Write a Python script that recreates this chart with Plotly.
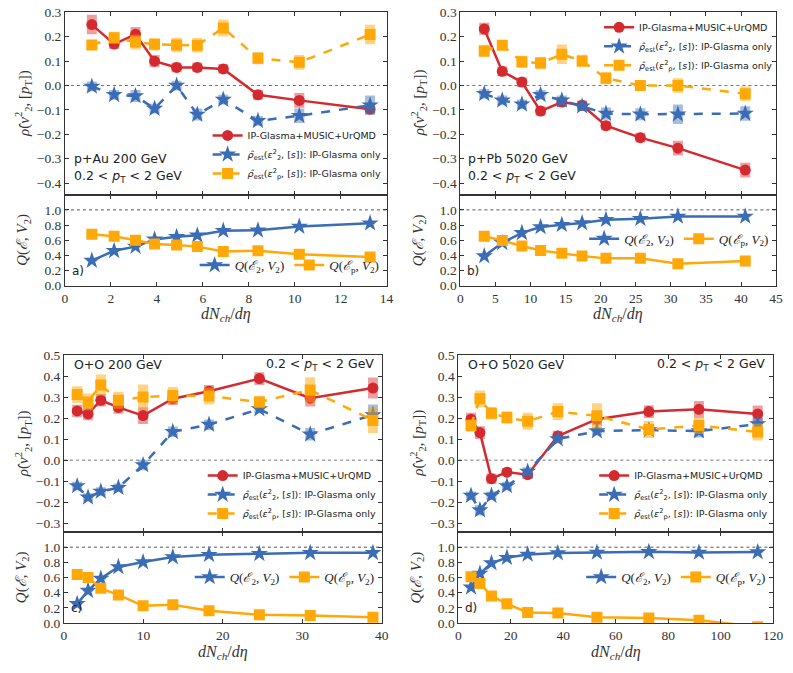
import plotly.graph_objects as go

W, H = 793, 673

# ---------------- data ----------------
# Panel a: p+Au 200 GeV
a_x = [1.17, 2.14, 3.07, 3.9, 4.86, 5.76, 6.89, 8.4, 10.2, 13.28]
a_red = [0.25, 0.17, 0.21, 0.10, 0.074, 0.074, 0.068, -0.038, -0.061, -0.097]
a_red_err = [0.04, 0.02, 0.03, 0.025, 0.02, 0.02, 0.02, 0.02, 0.03, 0.02]
a_blue = [-0.004, -0.038, -0.043, -0.095, 0.0, -0.119, -0.058, -0.145, -0.124, -0.081]
a_blue_err = [0.02, 0.02, 0.025, 0.02, 0.02, 0.025, 0.02, 0.02, 0.03, 0.04]
a_orange = [0.166, 0.196, 0.178, 0.169, 0.166, 0.165, 0.236, 0.112, 0.095, 0.209]
a_orange_err = [0.02, 0.025, 0.03, 0.025, 0.03, 0.03, 0.035, 0.025, 0.03, 0.04]
a_q2 = [0.33, 0.46, 0.515, 0.61, 0.644, 0.665, 0.725, 0.73, 0.78, 0.824]
a_qp = [0.678, 0.652, 0.60, 0.55, 0.536, 0.515, 0.45, 0.46, 0.416, 0.378]

# Panel b: p+Pb 5020 GeV
b_x = [3.4, 5.97, 8.77, 11.43, 14.46, 17.35, 20.75, 25.65, 31.0, 40.6]
b_red = [0.232, 0.058, 0.014, -0.105, -0.068, -0.081, -0.165, -0.214, -0.257, -0.347]
b_red_err = [0.025, 0.02, 0.02, 0.02, 0.02, 0.02, 0.02, 0.02, 0.03, 0.03]
b_blue = [-0.034, -0.061, -0.077, -0.038, -0.061, -0.085, -0.115, -0.118, -0.118, -0.115]
b_blue_err = [0.02, 0.02, 0.02, 0.02, 0.02, 0.02, 0.025, 0.025, 0.04, 0.03]
b_orange = [0.142, 0.165, 0.097, 0.092, 0.128, 0.101, 0.03, 0.0, 0.0, -0.034]
b_orange_err = [0.025, 0.02, 0.025, 0.025, 0.04, 0.025, 0.025, 0.02, 0.03, 0.03]
b_q2 = [0.39, 0.565, 0.696, 0.774, 0.804, 0.826, 0.87, 0.883, 0.913, 0.913]
b_qp = [0.652, 0.596, 0.522, 0.465, 0.426, 0.39, 0.36, 0.36, 0.29, 0.326]

# Panel c: O+O 200 GeV
c_x = [1.66, 3.03, 4.64, 6.85, 9.96, 13.7, 18.26, 24.6, 31.0, 38.9]
c_red = [0.234, 0.22, 0.285, 0.251, 0.212, 0.292, 0.328, 0.388, 0.295, 0.343]
c_red_err = [0.03, 0.03, 0.03, 0.03, 0.04, 0.03, 0.03, 0.03, 0.04, 0.05]
c_blue = [-0.123, -0.177, -0.149, -0.131, -0.023, 0.135, 0.169, 0.243, 0.123, 0.215]
c_blue_err = [0.02, 0.02, 0.02, 0.02, 0.025, 0.025, 0.025, 0.02, 0.03, 0.05]
c_orange = [0.312, 0.277, 0.358, 0.285, 0.30, 0.308, 0.305, 0.277, 0.334, 0.189]
c_orange_err = [0.04, 0.04, 0.05, 0.04, 0.06, 0.04, 0.04, 0.03, 0.06, 0.06]
c_q2 = [0.252, 0.426, 0.587, 0.739, 0.804, 0.87, 0.90, 0.913, 0.926, 0.926]
c_qp = [0.639, 0.60, 0.457, 0.37, 0.226, 0.239, 0.161, 0.109, 0.10, 0.074]

# Panel d: O+O 5020 GeV
d_x = [4.8, 8.2, 12.6, 18.5, 26.4, 37.9, 52.8, 72.6, 91.7, 114.1]
d_red = [0.195, 0.131, -0.088, -0.057, -0.069, 0.115, 0.195, 0.231, 0.242, 0.22]
d_red_err = [0.03, 0.03, 0.025, 0.02, 0.02, 0.025, 0.03, 0.03, 0.04, 0.04]
d_blue = [-0.169, -0.238, -0.169, -0.123, -0.054, 0.10, 0.138, 0.143, 0.138, 0.172]
d_blue_err = [0.02, 0.025, 0.02, 0.02, 0.02, 0.02, 0.02, 0.02, 0.03, 0.03]
d_orange = [0.165, 0.292, 0.223, 0.203, 0.185, 0.231, 0.211, 0.146, 0.165, 0.134]
d_orange_err = [0.03, 0.04, 0.03, 0.03, 0.04, 0.04, 0.06, 0.04, 0.04, 0.04]
d_q2 = [0.47, 0.652, 0.791, 0.861, 0.904, 0.922, 0.93, 0.939, 0.93, 0.935]
d_qp = [0.609, 0.522, 0.357, 0.252, 0.139, 0.13, 0.074, 0.065, 0.035, -0.05]

labels_top = ["IP-Glasma+MUSIC+UrQMD",
              "<i>ρ̂</i><sub>est</sub>(<i>ε</i><sup>2</sup><sub>2</sub>, [<i>s</i>]): IP-Glasma only",
              "<i>ρ̂</i><sub>est</sub>(<i>ε</i><sup>2</sup><sub>p</sub>, [<i>s</i>]): IP-Glasma only"]
labels_bot = ["<i>Q</i>(<i>ℰ</i><sub>2</sub>, <i>V</i><sub>2</sub>)",
              "<i>Q</i>(<i>ℰ</i><sub>p</sub>, <i>V</i><sub>2</sub>)"]
systems = ["p+Au 200 GeV", "p+Pb 5020 GeV", "O+O 200 GeV", "O+O 5020 GeV"]
panel_tags = ["a)", "b)", "c)", "d)"]
pt_text = "0.2 < <i>p</i><sub>T</sub> < 2 GeV"

# ---------------- style ----------------
RED = "#d42a2f"
BLUE = "#3a6db5"
ORANGE = "#ffa808"
RED_E = "rgba(212,42,47,0.45)"
BLUE_E = "rgba(58,109,181,0.45)"
ORANGE_E = "rgba(255,168,8,0.5)"
SERIF = "Liberation Serif"
SANS = "DejaVu Sans"

def px(v):
    return v / W

def py(v):
    return 1 - v / H

# panel geometry in pixels: (x0, x1, top_y0, split, bottom_y1)
geom = [
    (63, 390, 5, 192, 285),
    (465, 786, 5, 192, 285),
    (62, 385, 356, 537, 630),
    (463, 783, 356, 537, 630),
]
xranges = [[0, 14], [0, 45], [0, 40], [0, 120]]
xdticks = [2, 5, 10, 20]
top_yranges = [[-0.448, 0.302], [-0.448, 0.302], [-0.342, 0.5], [-0.342, 0.5]]
top_ticks = [[-0.4, -0.3, -0.2, -0.1, 0.0, 0.1, 0.2, 0.3]] * 2 + [[-0.3, -0.2, -0.1, 0.0, 0.1, 0.2, 0.3, 0.4, 0.5]] * 2

panels = [
    (a_x, a_red, a_red_err, a_blue, a_blue_err, a_orange, a_orange_err, a_q2, a_qp),
    (b_x, b_red, b_red_err, b_blue, b_blue_err, b_orange, b_orange_err, b_q2, b_qp),
    (c_x, c_red, c_red_err, c_blue, c_blue_err, c_orange, c_orange_err, c_q2, c_qp),
    (d_x, d_red, d_red_err, d_blue, d_blue_err, d_orange, d_orange_err, d_q2, d_qp),
]

fig = go.Figure()
layout = dict(width=W, height=H, margin=dict(l=0, r=0, t=0, b=0),
              paper_bgcolor="white", plot_bgcolor="white", showlegend=True)
annotations = []
shapes = []

def axis_common():
    return dict(showline=True, linecolor="#333", linewidth=1, mirror="ticks",
                ticks="inside", ticklen=4, tickcolor="#333", showgrid=False,
                zeroline=False, tickfont=dict(family=SERIF, size=13.5, color="#333"))

# legend placements (pixels)
top_leg = [  # x(right), y, yanchor
    (390, 185, "bottom"),
    (788, 6, "top"),
    (385, 533, "bottom"),
    (783, 533, "bottom"),
]
bot_leg = [  # x(right), y center
    (388, 264),
    (784, 237),
    (383, 583),
    (781, 583),
]

for i, (g, data) in enumerate(zip(geom, panels)):
    x0, x1, ty0, sp, by1 = g
    xs, red, rerr, blue, berr, orng, oerr, q2, qp = data
    nt = 2 * i + 1
    nb = 2 * i + 2
    xt = "x" if nt == 1 else f"x{nt}"
    yt = "y" if nt == 1 else f"y{nt}"
    xb = f"x{nb}"
    yb = f"y{nb}"
    leg_t = "legend" if nt == 1 else f"legend{nt}"
    leg_b = f"legend{nb}"

    # top traces
    for ys, err, col, ecol, sym, size, dash, name in [
        (red, rerr, RED, RED_E, "circle", 11, "solid", labels_top[0]),
        (blue, berr, BLUE, BLUE_E, "star", 13, "dash", labels_top[1]),
        (orng, oerr, ORANGE, ORANGE_E, "square", 11, "dash", labels_top[2]),
    ]:
        fig.add_trace(go.Scatter(
            x=xs, y=ys, xaxis=xt, yaxis=yt, mode="lines+markers", name=name,
            legend=leg_t,
            line=dict(color=col, width=2.5, dash=dash),
            marker=dict(symbol=sym, size=size, color=col, line=dict(width=0)),
            error_y=dict(type="data", array=err, thickness=10, width=0, color=ecol),
        ))
    # bottom traces
    for ys, col, ecol, sym, size, name in [
        (q2, BLUE, BLUE_E, "star", 13, labels_bot[0]),
        (qp, ORANGE, ORANGE_E, "square", 11, labels_bot[1]),
    ]:
        fig.add_trace(go.Scatter(
            x=xs, y=ys, xaxis=xb, yaxis=yb, mode="lines+markers", name=name,
            legend=leg_b,
            line=dict(color=col, width=2.5),
            marker=dict(symbol=sym, size=size, color=col, line=dict(width=0)),
            error_y=dict(type="data", array=[0.015] * len(ys), thickness=10, width=0, color=ecol),
        ))

    dom_x = [px(x0), px(x1)]
    ax = axis_common()
    ax.update(domain=dom_x, range=xranges[i], dtick=xdticks[i], tick0=0,
              showticklabels=False, anchor=yt)
    layout["xaxis" if nt == 1 else f"xaxis{nt}"] = ax
    ay = axis_common()
    ay.update(domain=[py(sp), py(ty0)], range=top_yranges[i], tickvals=top_ticks[i],
              tickformat=".1f", anchor=xt)
    layout["yaxis" if nt == 1 else f"yaxis{nt}"] = ay

    bx = axis_common()
    bx.update(domain=dom_x, range=xranges[i], dtick=xdticks[i], tick0=0, anchor=yb)
    layout[f"xaxis{nb}"] = bx
    by = axis_common()
    by.update(domain=[py(by1), py(sp)], range=[0, 1.2],
              tickvals=[0.0, 0.2, 0.4, 0.6, 0.8, 1.0], tickformat=".1f", anchor=xb)
    layout[f"yaxis{nb}"] = by

    # reference dotted lines
    shapes.append(dict(type="line", xref=f"{xt} domain", x0=0, x1=1, yref=yt, y0=0, y1=0,
                       line=dict(color="#777", width=1, dash="dot"), layer="below"))
    shapes.append(dict(type="line", xref=f"{xb} domain", x0=0, x1=1, yref=yb, y0=1, y1=1,
                       line=dict(color="#555", width=1, dash="dot"), layer="below"))

    # legends
    lx, ly, lya = top_leg[i]
    layout[leg_t] = dict(x=px(lx), y=py(ly), xanchor="right", yanchor=lya,
                         xref="paper", yref="paper", bgcolor="rgba(0,0,0,0)",
                         font=dict(family=SANS, size=9.5, color="#222"),
                         tracegroupgap=0, itemwidth=30)
    bx_, by_ = bot_leg[i]
    layout[leg_b] = dict(x=px(bx_), y=py(by_), xanchor="right", yanchor="middle",
                         orientation="h", xref="paper", yref="paper",
                         bgcolor="rgba(0,0,0,0)",
                         font=dict(family=SERIF, size=13, color="#222"),
                         itemwidth=30)

    # axis titles
    annotations.append(dict(x=px(x0 - 42), y=py((ty0 + sp) / 2), xref="paper", yref="paper",
                            text="<i>ρ̂</i>(<i>v</i><sup>2</sup><sub>2</sub>, [<i>p</i><sub>T</sub>])",
                            textangle=-90, showarrow=False, xanchor="center", yanchor="middle",
                            font=dict(family=SERIF, size=15, color="#333")))
    annotations.append(dict(x=px(x0 - 42), y=py((sp + by1) / 2), xref="paper", yref="paper",
                            text="<i>Q</i>(<i>ℰ</i>, <i>V</i><sub>2</sub>)",
                            textangle=-90, showarrow=False, xanchor="center", yanchor="middle",
                            font=dict(family=SERIF, size=15, color="#333")))
    annotations.append(dict(x=px((x0 + x1) / 2), y=py(by1 + 30), xref="paper", yref="paper",
                            text="<i>dN</i><sub><i>ch</i></sub>/<i>dη</i>", showarrow=False,
                            xanchor="center", yanchor="middle",
                            font=dict(family=SERIF, size=16, color="#333")))
    # panel tag
    annotations.append(dict(x=px(x0 + 5), y=py(by1 - 15), xref="paper", yref="paper",
                            text=panel_tags[i], showarrow=False, xanchor="left", yanchor="middle",
                            font=dict(family=SANS, size=12, color="#222")))

# system labels
annotations += [
    dict(x=px(70), y=py(155), text=systems[0], xanchor="left"),
    dict(x=px(70), y=py(173), text=pt_text, xanchor="left"),
    dict(x=px(471), y=py(155), text=systems[1], xanchor="left"),
    dict(x=px(471), y=py(173), text=pt_text, xanchor="left"),
    dict(x=px(70), y=py(366), text=systems[2], xanchor="left"),
    dict(x=px(379), y=py(366), text=pt_text, xanchor="right"),
    dict(x=px(471), y=py(366), text=systems[3], xanchor="left"),
    dict(x=px(777), y=py(366), text=pt_text, xanchor="right"),
]
for an in annotations[-8:]:
    an.update(xref="paper", yref="paper", showarrow=False, yanchor="middle",
              font=dict(family=SANS, size=12.5, color="#222"))

layout["annotations"] = annotations
layout["shapes"] = shapes
fig.update_layout(**layout)
fig.write_html("out.html")
